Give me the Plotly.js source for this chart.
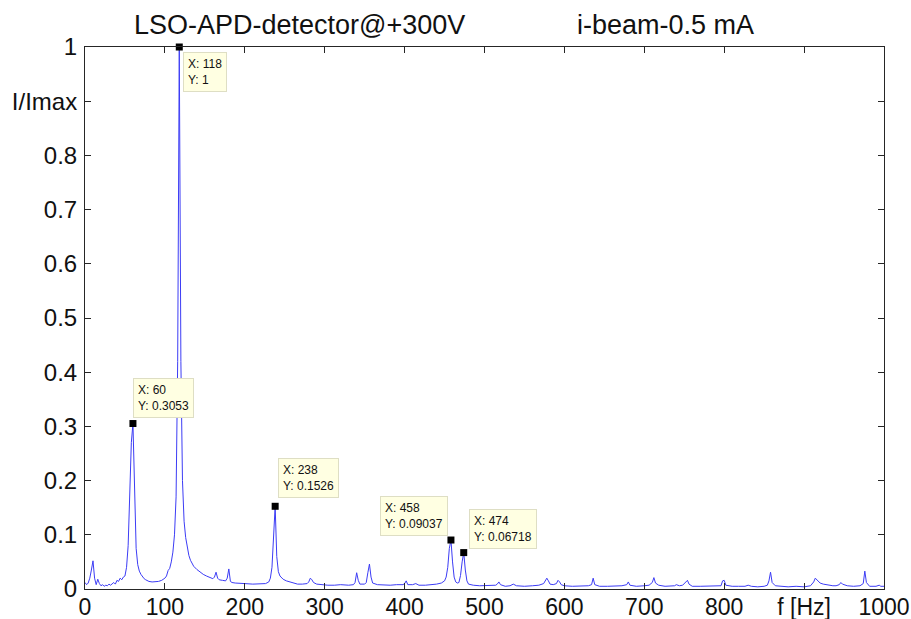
<!DOCTYPE html>
<html>
<head>
<meta charset="utf-8">
<script src="https://cdn.plot.ly/plotly-3.0.1.min.js"></script>
<style>
  html, body { margin: 0; padding: 0; background: #fff; }
  #chart { width: 911px; height: 619px; }
</style>
</head>
<body>
<div id="chart"></div>
<script>
// Normalised spectrum of the LSO-APD detector signal (I/Imax vs frequency)
const freqHz = [
  0, 2, 4, 6, 8, 10, 12, 14, 16, 18, 20, 22, 24, 26, 28, 30, 32, 34, 36, 38,
  40, 42, 44, 46, 48, 50, 52, 54, 56, 58, 60, 62, 64, 66, 68, 70, 72, 74, 76, 78,
  80, 84, 88, 92, 96, 100, 102, 104, 106, 108, 110, 112, 114, 116, 118, 120, 122, 124, 126, 128,
  130, 132, 134, 136, 140, 144, 148, 152, 156, 160, 162, 164, 166, 168, 172, 176, 178, 180, 182, 184,
  188, 194, 200, 210, 220, 226, 230, 232, 234, 236, 238, 240, 242, 244, 248, 252, 256, 260, 266, 272,
  278, 280, 282, 284, 286, 290, 296, 304, 312, 320, 330, 336, 338, 340, 342, 344, 350, 352, 354, 356,
  358, 360, 366, 374, 382, 390, 398, 400, 402, 404, 410, 414, 418, 426, 434, 440, 446, 450, 452, 454,
  456, 458, 460, 462, 464, 466, 468, 470, 472, 474, 476, 478, 480, 486, 494, 502, 510, 514, 516, 518,
  520, 526, 532, 536, 540, 550, 560, 568, 574, 576, 578, 580, 582, 586, 590, 592, 594, 596, 600, 610,
  620, 630, 634, 636, 638, 644, 654, 664, 672, 678, 680, 682, 690, 700, 706, 710, 712, 714, 718, 726,
  734, 738, 740, 744, 748, 752, 754, 756, 760, 770, 780, 790, 796, 798, 800, 802, 810, 818, 826, 830,
  834, 842, 850, 854, 856, 858, 860, 864, 870, 880, 890, 900, 908, 912, 914, 916, 920, 924, 930, 936,
  940, 944, 946, 948, 954, 962, 970, 974, 976, 978, 982, 990, 994, 996, 1000
];
const intensity = [
  0.012, 0.008, 0.011, 0.020, 0.035, 0.052, 0.020, 0.008, 0.018, 0.010, 0.006, 0.008, 0.005, 0.007, 0.006, 0.009, 0.007, 0.010, 0.012, 0.009,
  0.016, 0.014, 0.020, 0.017, 0.022, 0.024, 0.040, 0.080, 0.160, 0.270, 0.3053, 0.160, 0.075, 0.045, 0.033, 0.027, 0.022, 0.019, 0.017, 0.015,
  0.014, 0.013, 0.013, 0.014, 0.016, 0.020, 0.024, 0.034, 0.038, 0.050, 0.068, 0.100, 0.170, 0.420, 1, 0.420, 0.200, 0.125, 0.095, 0.075,
  0.062, 0.053, 0.047, 0.042, 0.036, 0.031, 0.027, 0.024, 0.022, 0.019, 0.022, 0.031, 0.020, 0.017, 0.016, 0.015, 0.020, 0.037, 0.014, 0.012,
  0.011, 0.010, 0.010, 0.009, 0.009, 0.010, 0.013, 0.020, 0.040, 0.090, 0.1526, 0.060, 0.032, 0.024, 0.018, 0.015, 0.013, 0.011, 0.009, 0.009,
  0.010, 0.013, 0.020, 0.017, 0.012, 0.009, 0.008, 0.007, 0.007, 0.008, 0.007, 0.008, 0.012, 0.030, 0.016, 0.009, 0.009, 0.012, 0.030, 0.046,
  0.022, 0.011, 0.008, 0.007, 0.007, 0.008, 0.008, 0.010, 0.015, 0.008, 0.008, 0.010, 0.007, 0.007, 0.008, 0.009, 0.011, 0.015, 0.022, 0.040,
  0.075, 0.09037, 0.050, 0.022, 0.013, 0.011, 0.012, 0.025, 0.050, 0.06718, 0.035, 0.015, 0.009, 0.007, 0.006, 0.006, 0.006, 0.007, 0.009, 0.013,
  0.008, 0.005, 0.006, 0.009, 0.006, 0.005, 0.006, 0.007, 0.010, 0.016, 0.020, 0.015, 0.009, 0.008, 0.010, 0.016, 0.013, 0.008, 0.006, 0.005,
  0.005, 0.006, 0.008, 0.020, 0.008, 0.005, 0.005, 0.005, 0.006, 0.008, 0.013, 0.007, 0.005, 0.006, 0.007, 0.012, 0.021, 0.011, 0.007, 0.005,
  0.005, 0.006, 0.008, 0.006, 0.007, 0.012, 0.016, 0.009, 0.005, 0.005, 0.005, 0.005, 0.006, 0.015, 0.016, 0.007, 0.005, 0.005, 0.005, 0.007,
  0.005, 0.004, 0.005, 0.007, 0.015, 0.031, 0.012, 0.006, 0.005, 0.004, 0.005, 0.004, 0.006, 0.013, 0.020, 0.017, 0.011, 0.009, 0.007, 0.006,
  0.006, 0.008, 0.012, 0.009, 0.006, 0.005, 0.006, 0.010, 0.033, 0.012, 0.005, 0.005, 0.007, 0.005, 0.005
];

// Frequencies marked with data tips
const tipFreqs = [118, 60, 238, 458, 474];

// Axis ticks and their labels (axis names sit in place of one tick label)
const xTickVals = [0, 100, 200, 300, 400, 500, 600, 700, 800, 900, 1000];
const xTickText = ['0', '100', '200', '300', '400', '500', '600', '700', '800', 'f [Hz]', '1000'];
const yTickVals = [0, 0.1, 0.2, 0.3, 0.4, 0.5, 0.6, 0.7, 0.8, 0.9, 1];
const yTickText = ['0', '0.1', '0.2', '0.3', '0.4', '0.5', '0.6', '0.7', '0.8', 'I/Imax', '1'];

const titleLeft = 'LSO-APD-detector@+300V';
const titleRight = 'i-beam-0.5 mA';

const tipY = tipFreqs.map(f => intensity[freqHz.indexOf(f)]);

// Placement of each data-tip box relative to its marker
const tipPlacement = [
  { xanchor: 'left',  yanchor: 'top',    xshift: 4,  yshift: -5 },
  { xanchor: 'left',  yanchor: 'bottom', xshift: 0,  yshift: 6 },
  { xanchor: 'left',  yanchor: 'bottom', xshift: 3,  yshift: 8 },
  { xanchor: 'right', yanchor: 'bottom', xshift: -3, yshift: 4 },
  { xanchor: 'left',  yanchor: 'bottom', xshift: 5,  yshift: 4 }
];

const FONT = 'Liberation Sans, Arial, Helvetica, sans-serif';

const traces = [
  {
    x: freqHz, y: intensity, type: 'scatter', mode: 'lines',
    line: { color: 'rgb(60,60,245)', width: 1 },
    hoverinfo: 'skip'
  },
  {
    x: tipFreqs, y: tipY, type: 'scatter', mode: 'markers',
    marker: { symbol: 'square', size: 7, color: '#000' },
    cliponaxis: false, hoverinfo: 'skip'
  }
];

const annotations = tipFreqs.map((f, i) => Object.assign({
  x: f, y: tipY[i], xref: 'x', yref: 'y',
  text: 'X: ' + f + '<br>Y: ' + tipY[i],
  showarrow: false, align: 'left',
  font: { family: FONT, size: 12, color: '#111' },
  bgcolor: 'rgb(255,255,226)', bordercolor: 'rgb(222,222,196)',
  borderwidth: 1, borderpad: 4
}, tipPlacement[i]));

annotations.push(
  { text: titleLeft, xref: 'paper', yref: 'paper', x: 0.269, y: 1, xanchor: 'center', yanchor: 'bottom',
    yshift: 5, showarrow: false, font: { family: FONT, size: 27, color: '#111' } },
  { text: titleRight, xref: 'paper', yref: 'paper', x: 0.727, y: 1, xanchor: 'center', yanchor: 'bottom',
    yshift: 5, showarrow: false, font: { family: FONT, size: 27, color: '#111' } }
);

const axisCommon = {
  showline: true, linecolor: '#262626', linewidth: 1, mirror: 'ticks',
  ticks: 'inside', ticklen: 6, tickcolor: '#262626', tickwidth: 1,
  showgrid: false, zeroline: false, tickmode: 'array'
};

const layout = {
  width: 911, height: 619,
  margin: { l: 85, r: 27, t: 47, b: 30 },
  paper_bgcolor: '#fff', plot_bgcolor: '#fff',
  showlegend: false,
  xaxis: Object.assign({}, axisCommon, {
    range: [0, 1000], tickvals: xTickVals, ticktext: xTickText,
    tickfont: { family: FONT, size: 23, color: '#111' }, ticklabelstandoff: -3
  }),
  yaxis: Object.assign({}, axisCommon, {
    range: [0, 1], tickvals: yTickVals, ticktext: yTickText,
    tickfont: { family: FONT, size: 24, color: '#111' }, ticklabelstandoff: 2
  }),
  annotations: annotations
};

Plotly.newPlot('chart', traces, layout, { staticPlot: true });
</script>
</body>
</html>
